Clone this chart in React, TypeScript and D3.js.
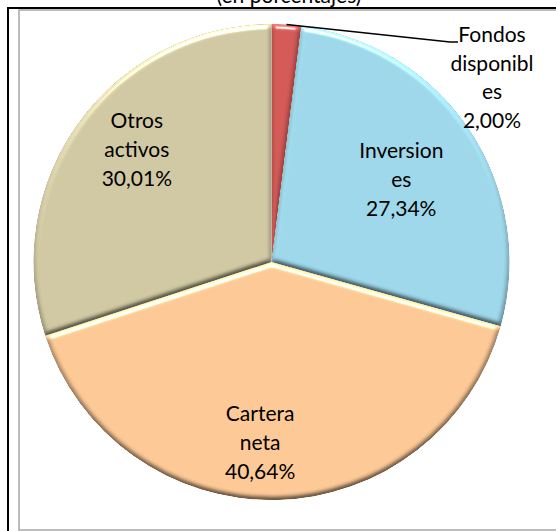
import { useMemo } from "react";
import { arc, pie } from "d3";

// data (percentages)
const categories = ["Fondos disponibles", "Inversiones", "Cartera neta", "Otros activos"];
const values = [2.0, 27.34, 40.64, 30.01];
const valueLabels = ["2,00%", "27,34%", "40,64%", "30,01%"];
// how Excel wrapped the category names inside the labels
const wrappedNames = [["Fondos", "disponibl", "es"], ["Inversion", "es"], ["Cartera", "neta"], ["Otros", "activos"]];
const colors = ["#D35A56", "#9DD7E9", "#FCC896", "#CFC8A2"];

const W = 556;
const H = 531;
const cx = 271.5;
const cy = 262;
const radius = 238;
const lineH = 29;
const fontFamily = "Lato, 'Open Sans', sans-serif";

// label layout: centroid at a fraction of the radius, plus a small nudge (best-fit like Excel)
const labelRadius = 0.72 * radius;
const nudge = [
  [0, 0],
  [-13, 12],
  [-15, 9],
  [4, -12],
];

export default function App() {
  const arcs = useMemo(
    () =>
      pie<number>()
        .sort(null)
        .value((d) => d)(values),
    []
  );
  const arcGen = arc<any>().innerRadius(0).outerRadius(radius);
  const labelArc = arc<any>().innerRadius(labelRadius).outerRadius(labelRadius);
  const edgeArc = arc<any>().innerRadius(radius).outerRadius(radius);

  return (
    <svg width={W} height={H} style={{ position: "absolute", left: 0, top: 0, background: "#fff" }}>
      <defs>
        {/* soft bevel: diffuse shading keeps at least half the colour, specular adds the light rim */}
        <filter id="bevel" x="-5%" y="-5%" width="110%" height="110%" colorInterpolationFilters="sRGB">
          <feGaussianBlur in="SourceAlpha" stdDeviation="2.5" result="blur" />
          <feDiffuseLighting in="blur" surfaceScale="3" diffuseConstant="1" lightingColor="#fff" result="diff">
            <feDistantLight azimuth="265" elevation="45" />
          </feDiffuseLighting>
          <feComposite in="SourceGraphic" in2="diff" operator="arithmetic" k1="0.849" k2="0.4" k3="0" k4="0" result="shaded" />
          <feSpecularLighting in="blur" surfaceScale="3" specularConstant="1" specularExponent="70" lightingColor="#fff" result="spec">
            <feDistantLight azimuth="265" elevation="45" />
          </feSpecularLighting>
          <feComposite in="spec" in2="SourceAlpha" operator="in" result="specIn" />
          <feComposite in="shaded" in2="specIn" operator="arithmetic" k1="0" k2="1" k3="0.8" k4="0" result="lit" />
          <feComposite in="lit" in2="SourceAlpha" operator="in" />
        </filter>
      </defs>

      {/* title, cut off at the top of the crop */}
      <text x={289} y={3} textAnchor="middle" fontFamily={fontFamily} fontSize={21} fill="#000">
        (en porcentajes)
      </text>

      {/* frames */}
      <rect x={8} y={8} width={700} height={700} fill="#fff" stroke="#000" strokeWidth={2} />
      <rect x={19} y={10} width={700} height={520} fill="#fff" stroke="#a6a6a6" strokeWidth={1.5} />

      <g transform={`translate(${cx},${cy})`}>
        {arcs.map((a, i) => (
          <path key={categories[i]} d={arcGen(a) ?? ""} fill={colors[i]} filter="url(#bevel)" />
        ))}

        {arcs.map((a, i) => {
          if (i === 0) return null;
          const [lx, ly] = labelArc.centroid(a);
          const lines = [...wrappedNames[i], valueLabels[i]];
          const x = lx + nudge[i][0];
          const y0 = ly + nudge[i][1] - ((lines.length - 1) * lineH) / 2;
          return (
            <text key={categories[i]} x={x} textAnchor="middle" fontFamily={fontFamily} fontSize={21} fill="#000">
              {lines.map((t, j) => (
                <tspan key={j} x={x} y={y0 + j * lineH} dy="0.35em">
                  {t}
                </tspan>
              ))}
            </text>
          );
        })}
      </g>

      {/* outside label with leader line for the small slice */}
      {(() => {
        const a = arcs[0];
        const [ex, ey] = edgeArc.centroid(a);
        const lines = [...wrappedNames[0], valueLabels[0]];
        const tx = 492;
        const ty = 35;
        return (
          <g>
            <polyline
              points={`${cx + ex},${cy + ey} 450,42 458,42`}
              fill="none"
              stroke="#000"
              strokeWidth={1.5}
            />
            <text x={tx} textAnchor="middle" fontFamily={fontFamily} fontSize={21} fill="#000">
              {lines.map((t, j) => (
                <tspan key={j} x={tx} y={ty + j * 28.5} dy="0.35em">
                  {t}
                </tspan>
              ))}
            </text>
          </g>
        );
      })()}
    </svg>
  );
}
